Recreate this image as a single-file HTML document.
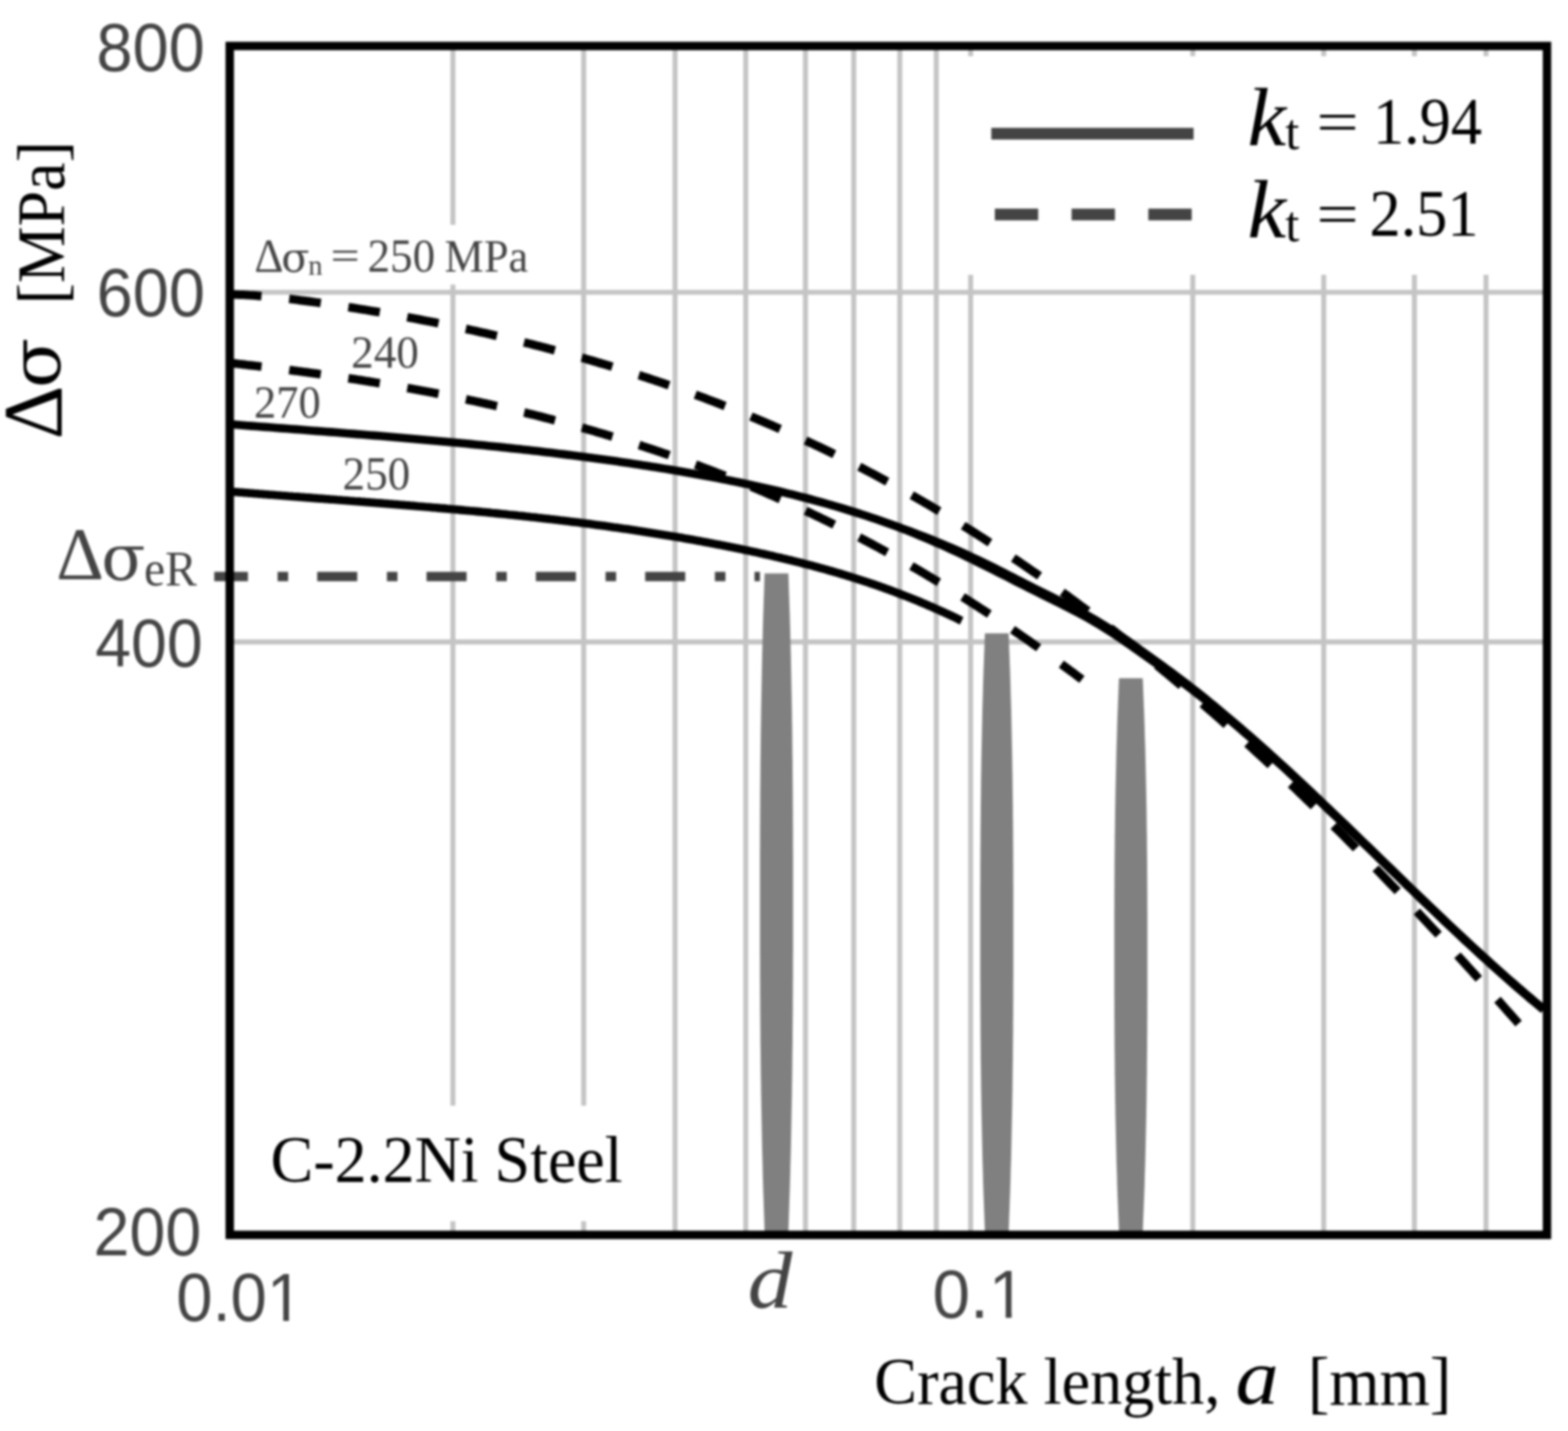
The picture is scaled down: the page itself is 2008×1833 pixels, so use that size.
<!DOCTYPE html>
<html lang="en">
<head>
<meta charset="utf-8">
<title>Fatigue threshold stress vs crack length</title>
<style>
html, body { margin: 0; padding: 0; background: #ffffff; }
body { width: 2008px; height: 1833px; overflow: hidden; }
svg { display: block; }
text { white-space: pre; }
</style>
</head>
<body>
<svg xmlns="http://www.w3.org/2000/svg" width="2008" height="1833" viewBox="0 0 2008 1833">
<defs><filter id="soft" x="0" y="0" width="2008" height="1833" filterUnits="userSpaceOnUse" color-interpolation-filters="sRGB"><feGaussianBlur stdDeviation="1.7"/></filter></defs>
<rect x="0" y="0" width="2008" height="1833" fill="#ffffff"/>
<g filter="url(#soft)">
<rect x="0" y="0" width="2008" height="1833" fill="#ffffff"/>
<g stroke="#c4c4c4" stroke-width="6.4" fill="none">
<line x1="580.0" y1="58.9" x2="580.0" y2="1581.8"/>
<line x1="747.5" y1="58.9" x2="747.5" y2="1581.8"/>
<line x1="864.5" y1="58.9" x2="864.5" y2="1581.8"/>
<line x1="955.0" y1="58.9" x2="955.0" y2="1581.8"/>
<line x1="1031.5" y1="58.9" x2="1031.5" y2="1581.8"/>
<line x1="1093.3" y1="58.9" x2="1093.3" y2="1581.8"/>
<line x1="1152.3" y1="58.9" x2="1152.3" y2="1581.8"/>
<line x1="1199.0" y1="58.9" x2="1199.0" y2="1581.8"/>
<line x1="1243.0" y1="58.9" x2="1243.0" y2="1581.8"/>
<line x1="1527.5" y1="58.9" x2="1527.5" y2="1581.8"/>
<line x1="1695.2" y1="58.9" x2="1695.2" y2="1581.8"/>
<line x1="1811.3" y1="58.9" x2="1811.3" y2="1581.8"/>
<line x1="1903.0" y1="58.9" x2="1903.0" y2="1581.8"/>
<line x1="294.2" y1="374.4" x2="1981.1" y2="374.4"/>
<line x1="294.2" y1="822.2" x2="1981.1" y2="822.2"/>
</g>
<g fill="#ffffff">
<rect x="1222" y="72" width="700" height="280"/>
<rect x="305" y="288" width="400" height="76.5"/>
<rect x="305" y="1416.3" width="505" height="148"/>
</g>
<g fill="#808080">
<path d="M1009.6,734.4 L1010.0,744.9 L1010.3,755.5 L1010.7,766.0 L1011.0,776.6 L1011.4,787.1 L1011.7,797.7 L1012.0,808.2 L1012.2,818.8 L1012.5,829.3 L1012.8,839.9 L1013.0,850.4 L1013.2,860.9 L1013.4,871.5 L1013.6,882.0 L1013.8,892.6 L1014.0,903.1 L1014.2,913.7 L1014.3,924.2 L1014.5,934.8 L1014.6,945.3 L1014.7,955.8 L1014.8,966.4 L1015.0,976.9 L1015.0,987.5 L1015.1,998.0 L1015.2,1008.6 L1015.3,1019.1 L1015.3,1029.7 L1015.4,1040.2 L1015.4,1050.8 L1015.5,1061.3 L1015.5,1071.8 L1015.5,1082.4 L1015.6,1092.9 L1015.6,1103.5 L1015.6,1114.0 L1015.6,1124.6 L1015.6,1135.1 L1015.6,1145.7 L1015.6,1156.2 L1015.6,1166.7 L1015.6,1177.3 L1015.6,1187.8 L1015.6,1198.4 L1015.6,1208.9 L1015.6,1219.5 L1015.5,1230.0 L1015.5,1240.6 L1015.5,1251.1 L1015.4,1261.7 L1015.4,1272.2 L1015.3,1282.7 L1015.3,1293.3 L1015.2,1303.8 L1015.1,1314.4 L1015.0,1324.9 L1015.0,1335.5 L1014.8,1346.0 L1014.7,1356.6 L1014.6,1367.1 L1014.5,1377.6 L1014.3,1388.2 L1014.2,1398.7 L1014.0,1409.3 L1013.8,1419.8 L1013.6,1430.4 L1013.4,1440.9 L1013.2,1451.5 L1013.0,1462.0 L1012.8,1472.5 L1012.5,1483.1 L1012.2,1493.6 L1012.0,1504.2 L1011.7,1514.7 L1011.4,1525.3 L1011.0,1535.8 L1010.7,1546.4 L1010.3,1556.9 L1010.0,1567.5 L1009.6,1578.0 L979.2,1578.0 L978.8,1567.5 L978.5,1556.9 L978.1,1546.4 L977.8,1535.8 L977.4,1525.3 L977.1,1514.7 L976.8,1504.2 L976.6,1493.6 L976.3,1483.1 L976.0,1472.5 L975.8,1462.0 L975.6,1451.5 L975.4,1440.9 L975.2,1430.4 L975.0,1419.8 L974.8,1409.3 L974.6,1398.7 L974.5,1388.2 L974.3,1377.6 L974.2,1367.1 L974.1,1356.6 L974.0,1346.0 L973.8,1335.5 L973.8,1324.9 L973.7,1314.4 L973.6,1303.8 L973.5,1293.3 L973.5,1282.7 L973.4,1272.2 L973.4,1261.7 L973.3,1251.1 L973.3,1240.6 L973.3,1230.0 L973.2,1219.5 L973.2,1208.9 L973.2,1198.4 L973.2,1187.8 L973.2,1177.3 L973.2,1166.7 L973.2,1156.2 L973.2,1145.7 L973.2,1135.1 L973.2,1124.6 L973.2,1114.0 L973.2,1103.5 L973.2,1092.9 L973.3,1082.4 L973.3,1071.8 L973.3,1061.3 L973.4,1050.8 L973.4,1040.2 L973.5,1029.7 L973.5,1019.1 L973.6,1008.6 L973.7,998.0 L973.8,987.5 L973.8,976.9 L974.0,966.4 L974.1,955.8 L974.2,945.3 L974.3,934.8 L974.5,924.2 L974.6,913.7 L974.8,903.1 L975.0,892.6 L975.2,882.0 L975.4,871.5 L975.6,860.9 L975.8,850.4 L976.0,839.9 L976.3,829.3 L976.6,818.8 L976.8,808.2 L977.1,797.7 L977.4,787.1 L977.8,776.6 L978.1,766.0 L978.5,755.5 L978.8,744.9 L979.2,734.4 Z"/>
<path d="M1291.7,811.2 L1292.1,820.8 L1292.4,830.4 L1292.8,840.0 L1293.1,849.5 L1293.5,859.1 L1293.8,868.7 L1294.1,878.3 L1294.3,887.9 L1294.6,897.5 L1294.9,907.1 L1295.1,916.6 L1295.3,926.2 L1295.5,935.8 L1295.7,945.4 L1295.9,955.0 L1296.1,964.6 L1296.3,974.1 L1296.4,983.7 L1296.6,993.3 L1296.7,1002.9 L1296.8,1012.5 L1296.9,1022.1 L1297.1,1031.7 L1297.1,1041.2 L1297.2,1050.8 L1297.3,1060.4 L1297.4,1070.0 L1297.4,1079.6 L1297.5,1089.2 L1297.5,1098.8 L1297.6,1108.3 L1297.6,1117.9 L1297.6,1127.5 L1297.7,1137.1 L1297.7,1146.7 L1297.7,1156.3 L1297.7,1165.8 L1297.7,1175.4 L1297.7,1185.0 L1297.7,1194.6 L1297.7,1204.2 L1297.7,1213.8 L1297.7,1223.4 L1297.7,1232.9 L1297.7,1242.5 L1297.7,1252.1 L1297.6,1261.7 L1297.6,1271.3 L1297.6,1280.9 L1297.5,1290.5 L1297.5,1300.0 L1297.4,1309.6 L1297.4,1319.2 L1297.3,1328.8 L1297.2,1338.4 L1297.1,1348.0 L1297.1,1357.5 L1296.9,1367.1 L1296.8,1376.7 L1296.7,1386.3 L1296.6,1395.9 L1296.4,1405.5 L1296.3,1415.1 L1296.1,1424.6 L1295.9,1434.2 L1295.7,1443.8 L1295.5,1453.4 L1295.3,1463.0 L1295.1,1472.6 L1294.9,1482.2 L1294.6,1491.7 L1294.3,1501.3 L1294.1,1510.9 L1293.8,1520.5 L1293.5,1530.1 L1293.1,1539.7 L1292.8,1549.2 L1292.4,1558.8 L1292.1,1568.4 L1291.7,1578.0 L1261.3,1578.0 L1260.9,1568.4 L1260.6,1558.8 L1260.2,1549.2 L1259.9,1539.7 L1259.5,1530.1 L1259.2,1520.5 L1258.9,1510.9 L1258.7,1501.3 L1258.4,1491.7 L1258.1,1482.2 L1257.9,1472.6 L1257.7,1463.0 L1257.5,1453.4 L1257.3,1443.8 L1257.1,1434.2 L1256.9,1424.6 L1256.7,1415.1 L1256.6,1405.5 L1256.4,1395.9 L1256.3,1386.3 L1256.2,1376.7 L1256.1,1367.1 L1255.9,1357.5 L1255.9,1348.0 L1255.8,1338.4 L1255.7,1328.8 L1255.6,1319.2 L1255.6,1309.6 L1255.5,1300.0 L1255.5,1290.5 L1255.4,1280.9 L1255.4,1271.3 L1255.4,1261.7 L1255.3,1252.1 L1255.3,1242.5 L1255.3,1232.9 L1255.3,1223.4 L1255.3,1213.8 L1255.3,1204.2 L1255.3,1194.6 L1255.3,1185.0 L1255.3,1175.4 L1255.3,1165.8 L1255.3,1156.3 L1255.3,1146.7 L1255.3,1137.1 L1255.4,1127.5 L1255.4,1117.9 L1255.4,1108.3 L1255.5,1098.8 L1255.5,1089.2 L1255.6,1079.6 L1255.6,1070.0 L1255.7,1060.4 L1255.8,1050.8 L1255.9,1041.2 L1255.9,1031.7 L1256.1,1022.1 L1256.2,1012.5 L1256.3,1002.9 L1256.4,993.3 L1256.6,983.7 L1256.7,974.1 L1256.9,964.6 L1257.1,955.0 L1257.3,945.4 L1257.5,935.8 L1257.7,926.2 L1257.9,916.6 L1258.1,907.1 L1258.4,897.5 L1258.7,887.9 L1258.9,878.3 L1259.2,868.7 L1259.5,859.1 L1259.9,849.5 L1260.2,840.0 L1260.6,830.4 L1260.9,820.8 L1261.3,811.2 Z"/>
<path d="M1463.4,868.8 L1463.8,877.7 L1464.1,886.5 L1464.5,895.4 L1464.8,904.3 L1465.2,913.1 L1465.5,922.0 L1465.8,930.9 L1466.0,939.7 L1466.3,948.6 L1466.6,957.4 L1466.8,966.3 L1467.0,975.2 L1467.2,984.0 L1467.4,992.9 L1467.6,1001.8 L1467.8,1010.6 L1468.0,1019.5 L1468.1,1028.4 L1468.3,1037.2 L1468.4,1046.1 L1468.5,1055.0 L1468.6,1063.8 L1468.8,1072.7 L1468.8,1081.6 L1468.9,1090.4 L1469.0,1099.3 L1469.1,1108.2 L1469.1,1117.0 L1469.2,1125.9 L1469.2,1134.8 L1469.3,1143.6 L1469.3,1152.5 L1469.3,1161.3 L1469.4,1170.2 L1469.4,1179.1 L1469.4,1187.9 L1469.4,1196.8 L1469.4,1205.7 L1469.4,1214.5 L1469.4,1223.4 L1469.4,1232.3 L1469.4,1241.1 L1469.4,1250.0 L1469.4,1258.9 L1469.4,1267.7 L1469.4,1276.6 L1469.3,1285.5 L1469.3,1294.3 L1469.3,1303.2 L1469.2,1312.0 L1469.2,1320.9 L1469.1,1329.8 L1469.1,1338.6 L1469.0,1347.5 L1468.9,1356.4 L1468.8,1365.2 L1468.8,1374.1 L1468.6,1383.0 L1468.5,1391.8 L1468.4,1400.7 L1468.3,1409.6 L1468.1,1418.4 L1468.0,1427.3 L1467.8,1436.2 L1467.6,1445.0 L1467.4,1453.9 L1467.2,1462.8 L1467.0,1471.6 L1466.8,1480.5 L1466.6,1489.3 L1466.3,1498.2 L1466.0,1507.1 L1465.8,1515.9 L1465.5,1524.8 L1465.2,1533.7 L1464.8,1542.5 L1464.5,1551.4 L1464.1,1560.3 L1463.8,1569.1 L1463.4,1578.0 L1433.0,1578.0 L1432.6,1569.1 L1432.3,1560.3 L1431.9,1551.4 L1431.6,1542.5 L1431.2,1533.7 L1430.9,1524.8 L1430.6,1515.9 L1430.4,1507.1 L1430.1,1498.2 L1429.8,1489.3 L1429.6,1480.5 L1429.4,1471.6 L1429.2,1462.8 L1429.0,1453.9 L1428.8,1445.0 L1428.6,1436.2 L1428.4,1427.3 L1428.3,1418.4 L1428.1,1409.6 L1428.0,1400.7 L1427.9,1391.8 L1427.8,1383.0 L1427.6,1374.1 L1427.6,1365.2 L1427.5,1356.4 L1427.4,1347.5 L1427.3,1338.6 L1427.3,1329.8 L1427.2,1320.9 L1427.2,1312.0 L1427.1,1303.2 L1427.1,1294.3 L1427.1,1285.5 L1427.0,1276.6 L1427.0,1267.7 L1427.0,1258.9 L1427.0,1250.0 L1427.0,1241.1 L1427.0,1232.3 L1427.0,1223.4 L1427.0,1214.5 L1427.0,1205.7 L1427.0,1196.8 L1427.0,1187.9 L1427.0,1179.1 L1427.0,1170.2 L1427.1,1161.3 L1427.1,1152.5 L1427.1,1143.6 L1427.2,1134.8 L1427.2,1125.9 L1427.3,1117.0 L1427.3,1108.2 L1427.4,1099.3 L1427.5,1090.4 L1427.6,1081.6 L1427.6,1072.7 L1427.8,1063.8 L1427.9,1055.0 L1428.0,1046.1 L1428.1,1037.2 L1428.3,1028.4 L1428.4,1019.5 L1428.6,1010.6 L1428.8,1001.8 L1429.0,992.9 L1429.2,984.0 L1429.4,975.2 L1429.6,966.3 L1429.8,957.4 L1430.1,948.6 L1430.4,939.7 L1430.6,930.9 L1430.9,922.0 L1431.2,913.1 L1431.6,904.3 L1431.9,895.4 L1432.3,886.5 L1432.6,877.7 L1433.0,868.8 Z"/>
</g>
<g stroke="#444444" stroke-width="12" fill="none">
<line x1="274.4" y1="738.6" x2="973.2" y2="738.6" stroke-dasharray="43.1 38 13.5 37.25 51.25 38 13.5 37.25 51.25 38 13.5 37.25 51.25 38 13.5 37.25 51.25 38 13.5 37.25 51.25"/>
</g>
<g stroke="#000000" fill="none" stroke-linejoin="round">
<path d="M294.0,377.1 L298.1,377.2 L302.3,377.3 L306.4,377.4 L310.6,377.5 L314.7,377.7 L318.8,378.0 L323.0,378.2 L327.1,378.5 L331.3,378.9 L335.4,379.2 L339.6,379.6 L343.7,379.9 L347.8,380.4 L352.0,380.8 L356.1,381.2 L360.3,381.7 L364.4,382.1 L368.5,382.6 L372.7,383.1 L376.8,383.6 L381.0,384.1 L385.1,384.7 L389.3,385.2 L393.4,385.7 L397.5,386.3 L401.7,386.9 L405.8,387.4 L410.0,388.0 L414.1,388.6 L418.2,389.2 L422.4,389.8 L426.5,390.4 L430.7,391.1 L434.8,391.7 L439.0,392.3 L443.1,393.0 L447.2,393.6 L451.4,394.3 L455.5,394.9 L459.7,395.6 L463.8,396.3 L467.9,396.9 L472.1,397.6 L476.2,398.3 L480.4,399.0 L484.5,399.7 L488.7,400.4 L492.8,401.1 L496.9,401.9 L501.1,402.6 L505.2,403.3 L509.4,404.1 L513.5,404.8 L517.6,405.6 L521.8,406.4 L525.9,407.1 L530.1,407.9 L534.2,408.7 L538.4,409.5 L542.5,410.3 L546.6,411.1 L550.8,411.9 L554.9,412.7 L559.1,413.5 L563.2,414.4 L567.3,415.2 L571.5,416.0 L575.6,416.9 L579.8,417.7 L583.9,418.6 L588.1,419.5 L592.2,420.4 L596.3,421.2 L600.5,422.1 L604.6,423.0 L608.8,423.9 L612.9,424.9 L617.0,425.8 L621.2,426.7 L625.3,427.7 L629.5,428.6 L633.6,429.6 L637.8,430.5 L641.9,431.5 L646.0,432.5 L650.2,433.4 L654.3,434.4 L658.5,435.4 L662.6,436.4 L666.7,437.5 L670.9,438.5 L675.0,439.5 L679.2,440.5 L683.3,441.6 L687.5,442.7 L691.6,443.7 L695.7,444.8 L699.9,445.9 L704.0,447.0 L708.2,448.1 L712.3,449.2 L716.4,450.3 L720.6,451.4 L724.7,452.5 L728.9,453.7 L733.0,454.8 L737.2,456.0 L741.3,457.2 L745.4,458.3 L749.6,459.5 L753.7,460.7 L757.9,461.9 L762.0,463.1 L766.1,464.4 L770.3,465.6 L774.4,466.8 L778.6,468.1 L782.7,469.3 L786.9,470.6 L791.0,471.9 L795.1,473.2 L799.3,474.5 L803.4,475.8 L807.6,477.1 L811.7,478.4 L815.8,479.8 L820.0,481.1 L824.1,482.5 L828.3,483.8 L832.4,485.2 L836.6,486.6 L840.7,488.0 L844.8,489.4 L849.0,490.8 L853.1,492.2 L857.3,493.7 L861.4,495.1 L865.5,496.6 L869.7,498.1 L873.8,499.5 L878.0,501.0 L882.1,502.5 L886.2,504.0 L890.4,505.6 L894.5,507.1 L898.7,508.6 L902.8,510.2 L907.0,511.8 L911.1,513.3 L915.2,514.9 L919.4,516.5 L923.5,518.1 L927.7,519.8 L931.8,521.4 L935.9,523.0 L940.1,524.7 L944.2,526.4 L948.4,528.0 L952.5,529.7 L956.7,531.4 L960.8,533.1 L964.9,534.9 L969.1,536.6 L973.2,538.3 L977.4,540.1 L981.5,541.9 L985.6,543.7 L989.8,545.4 L993.9,547.3 L998.1,549.1 L1002.2,550.9 L1006.4,552.7 L1010.5,554.6 L1014.6,556.5 L1018.8,558.3 L1022.9,560.2 L1027.1,562.1 L1031.2,564.1 L1035.3,566.0 L1039.5,567.9 L1043.6,569.9 L1047.8,571.8 L1051.9,573.8 L1056.1,575.8 L1060.2,577.8 L1064.3,579.8 L1068.5,581.9 L1072.6,583.9 L1076.8,586.0 L1080.9,588.0 L1085.0,590.1 L1089.2,592.2 L1093.3,594.3 L1097.5,596.4 L1101.6,598.5 L1105.8,600.7 L1109.9,602.8 L1114.0,605.0 L1118.2,607.2 L1122.3,609.4 L1126.5,611.6 L1130.6,613.8 L1134.7,616.1 L1138.9,618.3 L1143.0,620.6 L1147.2,622.8 L1151.3,625.1 L1155.5,627.4 L1159.6,629.8 L1163.7,632.1 L1167.9,634.4 L1172.0,636.8 L1176.2,639.2 L1180.3,641.5 L1184.4,643.9 L1188.6,646.3 L1192.7,648.8 L1196.9,651.2 L1201.0,653.7 L1205.2,656.1 L1209.3,658.6 L1213.4,661.1 L1217.6,663.6 L1221.7,666.1 L1225.9,668.7 L1230.0,671.2 L1234.1,673.8 L1238.3,676.3 L1242.4,678.9 L1246.6,681.5 L1250.7,684.1 L1254.9,686.8 L1259.0,689.4 L1263.1,692.1 L1267.3,694.8 L1271.4,697.4 L1275.6,700.1 L1279.7,702.9 L1283.8,705.6 L1288.0,708.3 L1292.1,711.1 L1296.3,713.9 L1300.4,716.6 L1304.6,719.4 L1308.7,722.2 L1312.8,725.1 L1317.0,727.9 L1321.1,730.8 L1325.3,733.6 L1329.4,736.5 L1333.5,739.4 L1337.7,742.3 L1341.8,745.3 L1346.0,748.2 L1350.1,751.1 L1354.3,754.1 L1358.4,757.1 L1362.5,760.1 L1366.7,763.1 L1370.8,766.1 L1375.0,769.2 L1379.1,772.2 L1383.2,775.3 L1387.4,778.4 L1391.5,781.4 L1395.7,784.6 L1399.8,787.7 L1403.9,790.8 L1408.1,794.0 L1412.2,797.1 L1416.4,800.3 L1420.5,803.5 L1424.7,806.7 L1428.8,809.9 L1432.9,813.2 L1437.1,816.4 L1441.2,819.7 L1445.4,822.9 L1449.5,826.2 L1453.6,829.5 L1457.8,832.8 L1461.9,836.2 L1466.1,839.5 L1470.2,842.9 L1474.4,846.3 L1478.5,849.6 L1482.6,853.0 L1486.8,856.5 L1490.9,859.9 L1495.1,863.3 L1499.2,866.8 L1503.3,870.2 L1507.5,873.7 L1511.6,877.2 L1515.8,880.7 L1519.9,884.3 L1524.1,887.8 L1528.2,891.3 L1532.3,894.9 L1536.5,898.5 L1540.6,902.1 L1544.8,905.7 L1548.9,909.3 L1553.0,912.9 L1557.2,916.6 L1561.3,920.2 L1565.5,923.9 L1569.6,927.6 L1573.8,931.3 L1577.9,935.0 L1582.0,938.7 L1586.2,942.5 L1590.3,946.2 L1594.5,950.0 L1598.6,953.7 L1602.7,957.5 L1606.9,961.3 L1611.0,965.1 L1615.2,969.0 L1619.3,972.8 L1623.5,976.7 L1627.6,980.5 L1631.7,984.4 L1635.9,988.3 L1640.0,992.2 L1644.2,996.1 L1648.3,1000.1 L1652.4,1004.0 L1656.6,1007.9 L1660.7,1011.9 L1664.9,1015.9 L1669.0,1019.9 L1673.2,1023.9 L1677.3,1027.9 L1681.4,1031.9 L1685.6,1036.0 L1689.7,1040.0 L1693.9,1044.1 L1698.0,1048.2 L1702.1,1052.3 L1706.3,1056.4 L1710.4,1060.5 L1714.6,1064.6 L1718.7,1068.7 L1722.9,1072.9 L1727.0,1077.0 L1731.1,1081.2 L1735.3,1085.4 L1739.4,1089.6 L1743.6,1093.8 L1747.7,1098.0 L1751.8,1102.2 L1756.0,1106.5 L1760.1,1110.7 L1764.3,1115.0 L1768.4,1119.3 L1772.6,1123.6 L1776.7,1127.9 L1780.8,1132.2 L1785.0,1136.5 L1789.1,1140.8 L1793.3,1145.2 L1797.4,1149.5 L1801.5,1153.9 L1805.7,1158.3 L1809.8,1162.6 L1814.0,1167.0 L1818.1,1171.4 L1822.3,1175.9 L1826.4,1180.3 L1830.5,1184.7 L1834.7,1189.2 L1838.8,1193.6 L1843.0,1198.1 L1847.1,1202.6 L1851.2,1207.1 L1855.4,1211.6 L1859.5,1216.1 L1863.7,1220.6 L1867.8,1225.2 L1872.0,1229.7 L1876.1,1234.2 L1880.2,1238.8 L1884.4,1243.4 L1888.5,1248.0 L1892.7,1252.6 L1896.8,1257.2 L1900.9,1261.8 L1905.1,1266.4 L1909.2,1271.0 L1913.4,1275.7 L1917.5,1280.3 L1921.7,1285.0 L1925.8,1289.6 L1929.9,1294.3 L1934.1,1299.0 L1938.2,1303.7 L1942.4,1308.4 L1946.5,1313.1" stroke-width="11.0" stroke-dasharray="40.8 35.70" stroke-dashoffset="-0.11"/>
<path d="M294.0,464.9 L296.7,465.2 L299.5,465.5 L302.2,465.8 L304.9,466.1 L307.7,466.4 L310.4,466.7 L313.1,467.0 L315.9,467.4 L318.6,467.7 L321.4,468.0 L324.1,468.3 L326.8,468.6 L329.6,468.9 L332.3,469.3 L335.0,469.6 L337.8,469.9 L340.5,470.2 L343.2,470.6 L346.0,470.9 L348.7,471.2 L351.4,471.6 L354.2,471.9 L356.9,472.2 L359.7,472.6 L362.4,472.9 L365.1,473.3 L367.9,473.6 L370.6,474.0 L373.3,474.3 L376.1,474.7 L378.8,475.0 L381.5,475.4 L384.3,475.7 L387.0,476.1 L389.7,476.5 L392.5,476.8 L395.2,477.2 L398.0,477.6 L400.7,478.0 L403.4,478.3 L406.2,478.7 L408.9,479.1 L411.6,479.5 L414.4,479.9 L417.1,480.3 L419.8,480.6 L422.6,481.0 L425.3,481.4 L428.0,481.8 L430.8,482.2 L433.5,482.6 L436.3,483.0 L439.0,483.4 L441.7,483.9 L444.5,484.3 L447.2,484.7 L449.9,485.1 L452.7,485.5 L455.4,485.9 L458.1,486.4 L460.9,486.8 L463.6,487.2 L466.3,487.7 L469.1,488.1 L471.8,488.5 L474.5,489.0 L477.3,489.4 L480.0,489.9 L482.8,490.3 L485.5,490.8 L488.2,491.2 L491.0,491.7 L493.7,492.1 L496.4,492.6 L499.2,493.1 L501.9,493.5 L504.6,494.0 L507.4,494.5 L510.1,494.9 L512.8,495.4 L515.6,495.9 L518.3,496.4 L521.1,496.9 L523.8,497.4 L526.5,497.8 L529.3,498.3 L532.0,498.8 L534.7,499.3 L537.5,499.8 L540.2,500.4 L542.9,500.9 L545.7,501.4 L548.4,501.9 L551.1,502.4 L553.9,502.9 L556.6,503.5 L559.4,504.0 L562.1,504.5 L564.8,505.1 L567.6,505.6 L570.3,506.1 L573.0,506.7 L575.8,507.2 L578.5,507.8 L581.2,508.3 L584.0,508.9 L586.7,509.4 L589.4,510.0 L592.2,510.6 L594.9,511.1 L597.7,511.7 L600.4,512.3 L603.1,512.9 L605.9,513.4 L608.6,514.0 L611.3,514.6 L614.1,515.2 L616.8,515.8 L619.5,516.4 L622.3,517.0 L625.0,517.6 L627.7,518.2 L630.5,518.8 L633.2,519.5 L635.9,520.1 L638.7,520.7 L641.4,521.3 L644.2,521.9 L646.9,522.6 L649.6,523.2 L652.4,523.9 L655.1,524.5 L657.8,525.2 L660.6,525.8 L663.3,526.5 L666.0,527.1 L668.8,527.8 L671.5,528.4 L674.2,529.1 L677.0,529.8 L679.7,530.5 L682.5,531.1 L685.2,531.8 L687.9,532.5 L690.7,533.2 L693.4,533.9 L696.1,534.6 L698.9,535.3 L701.6,536.0 L704.3,536.7 L707.1,537.4 L709.8,538.2 L712.5,538.9 L715.3,539.6 L718.0,540.3 L720.8,541.1 L723.5,541.8 L726.2,542.6 L729.0,543.3 L731.7,544.1 L734.4,544.8 L737.2,545.6 L739.9,546.3 L742.6,547.1 L745.4,547.9 L748.1,548.6 L750.8,549.4 L753.6,550.2 L756.3,551.0 L759.1,551.8 L761.8,552.6 L764.5,553.4 L767.3,554.2 L770.0,555.0 L772.7,555.8 L775.5,556.6 L778.2,557.4 L780.9,558.3 L783.7,559.1 L786.4,559.9 L789.1,560.8 L791.9,561.6 L794.6,562.5 L797.3,563.3 L800.1,564.2 L802.8,565.0 L805.6,565.9 L808.3,566.8 L811.0,567.6 L813.8,568.5 L816.5,569.4 L819.2,570.3 L822.0,571.2 L824.7,572.1 L827.4,573.0 L830.2,573.9 L832.9,574.8 L835.6,575.7 L838.4,576.6 L841.1,577.6 L843.9,578.5 L846.6,579.4 L849.3,580.4 L852.1,581.3 L854.8,582.2 L857.5,583.2 L860.3,584.2 L863.0,585.1 L865.7,586.1 L868.5,587.1 L871.2,588.0 L873.9,589.0 L876.7,590.0 L879.4,591.0 L882.2,592.0 L884.9,593.0 L887.6,594.0 L890.4,595.0 L893.1,596.0 L895.8,597.0 L898.6,598.1 L901.3,599.1 L904.0,600.1 L906.8,601.2 L909.5,602.2 L912.2,603.3 L915.0,604.3 L917.7,605.4 L920.4,606.5 L923.2,607.5 L925.9,608.6 L928.7,609.7 L931.4,610.8 L934.1,611.9 L936.9,613.0 L939.6,614.1 L942.3,615.2 L945.1,616.3 L947.8,617.4 L950.5,618.5 L953.3,619.6 L956.0,620.8 L958.7,621.9 L961.5,623.1 L964.2,624.2 L967.0,625.4 L969.7,626.5 L972.4,627.7 L975.2,628.9 L977.9,630.0 L980.6,631.2 L983.4,632.4 L986.1,633.6 L988.8,634.8 L991.6,636.0 L994.3,637.2 L997.0,638.4 L999.8,639.6 L1002.5,640.9 L1005.3,642.1 L1008.0,643.3 L1010.7,644.6 L1013.5,645.8 L1016.2,647.1 L1018.9,648.3 L1021.7,649.6 L1024.4,650.9 L1027.1,652.1 L1029.9,653.4 L1032.6,654.7 L1035.3,656.0 L1038.1,657.3 L1040.8,658.6 L1043.6,659.9 L1046.3,661.2 L1049.0,662.5 L1051.8,663.9 L1054.5,665.2 L1057.2,666.5 L1060.0,667.9 L1062.7,669.2 L1065.4,670.6 L1068.2,671.9 L1070.9,673.3 L1073.6,674.7 L1076.4,676.0 L1079.1,677.4 L1081.8,678.8 L1084.6,680.2 L1087.3,681.6 L1090.1,683.0 L1092.8,684.4 L1095.5,685.8 L1098.3,687.3 L1101.0,688.7 L1103.7,690.1 L1106.5,691.6 L1109.2,693.0 L1111.9,694.5 L1114.7,695.9 L1117.4,697.4 L1120.1,698.9 L1122.9,700.3 L1125.6,701.8 L1128.4,703.3 L1131.1,704.8 L1133.8,706.3 L1136.6,707.8 L1139.3,709.3 L1142.0,710.8 L1144.8,712.4 L1147.5,713.9 L1150.2,715.4 L1153.0,717.0 L1155.7,718.5 L1158.4,720.1 L1161.2,721.6 L1163.9,723.2 L1166.7,724.8 L1169.4,726.4 L1172.1,727.9 L1174.9,729.5 L1177.6,731.1 L1180.3,732.7 L1183.1,734.3 L1185.8,735.9 L1188.5,737.6 L1191.3,739.2 L1194.0,740.8 L1196.7,742.5 L1199.5,744.1 L1202.2,745.8 L1205.0,747.4 L1207.7,749.1 L1210.4,750.8 L1213.2,752.4 L1215.9,754.1 L1218.6,755.8 L1221.4,757.5 L1224.1,759.2 L1226.8,760.9 L1229.6,762.6 L1232.3,764.3 L1235.0,766.0 L1237.8,767.8 L1240.5,769.5 L1243.2,771.3 L1246.0,773.0 L1248.7,774.8 L1251.5,776.5 L1254.2,778.3 L1256.9,780.1 L1259.7,781.8 L1262.4,783.6 L1265.1,785.4 L1267.9,787.2 L1270.6,789.0 L1273.3,790.8 L1276.1,792.6 L1278.8,794.5 L1281.5,796.3 L1284.3,798.1 L1287.0,800.0 L1289.8,801.8 L1292.5,803.7 L1295.2,805.5 L1298.0,807.4 L1300.7,809.3 L1303.4,811.1 L1306.2,813.0 L1308.9,814.9 L1311.6,816.8 L1314.4,818.7 L1317.1,820.6 L1319.8,822.5 L1322.6,824.5 L1325.3,826.4 L1328.1,828.3 L1330.8,830.3 L1333.5,832.2 L1336.3,834.2 L1339.0,836.1 L1341.7,838.1 L1344.5,840.0 L1347.2,842.0 L1349.9,844.0 L1352.7,846.0 L1355.4,848.0 L1358.1,850.0 L1360.9,852.0 L1363.6,854.0 L1366.4,856.0 L1369.1,858.0 L1371.8,860.1 L1374.6,862.1 L1377.3,864.1 L1380.0,866.2 L1382.8,868.2 L1385.5,870.3" stroke-width="11.0" stroke-dasharray="40.8 35.69" stroke-dashoffset="-0.41"/>
<path d="M294.4,538.1 L300.0,538.5 L305.7,539.0 L311.3,539.4 L316.9,539.9 L322.6,540.3 L328.2,540.7 L333.8,541.2 L339.4,541.6 L345.1,542.0 L350.7,542.5 L356.3,542.9 L362.0,543.3 L367.6,543.8 L373.2,544.2 L378.8,544.6 L384.5,545.1 L390.1,545.5 L395.7,545.9 L401.4,546.4 L407.0,546.8 L412.6,547.2 L418.2,547.7 L423.9,548.1 L429.5,548.6 L435.1,549.0 L440.8,549.4 L446.4,549.9 L452.0,550.3 L457.7,550.8 L463.3,551.2 L468.9,551.7 L474.5,552.2 L480.2,552.6 L485.8,553.1 L491.4,553.5 L497.1,554.0 L502.7,554.5 L508.3,554.9 L514.0,555.4 L519.6,555.9 L525.2,556.4 L530.9,556.9 L536.5,557.4 L542.1,557.9 L547.8,558.4 L553.4,558.9 L559.0,559.4 L564.7,559.9 L570.3,560.4 L575.9,560.9 L581.6,561.5 L587.2,562.0 L592.8,562.5 L598.5,563.1 L604.1,563.6 L609.7,564.2 L615.4,564.7 L621.0,565.3 L626.6,565.9 L632.3,566.4 L637.9,567.0 L643.5,567.6 L649.2,568.2 L654.8,568.8 L660.4,569.4 L666.1,570.0 L671.7,570.7 L677.3,571.3 L683.0,571.9 L688.6,572.6 L694.3,573.2 L699.9,573.9 L705.5,574.6 L711.2,575.3 L716.8,575.9 L722.4,576.6 L728.1,577.3 L733.7,578.0 L739.3,578.8 L745.0,579.5 L750.6,580.2 L756.3,581.0 L761.9,581.7 L767.5,582.5 L773.2,583.3 L778.8,584.1 L784.4,584.8 L790.1,585.6 L795.7,586.5 L801.4,587.3 L807.0,588.1 L812.6,589.0 L818.3,589.8 L823.9,590.7 L829.6,591.6 L835.2,592.4 L840.8,593.3 L846.5,594.3 L852.1,595.2 L857.7,596.1 L863.4,597.0 L869.0,598.0 L874.7,599.0 L880.3,599.9 L885.9,600.9 L891.6,601.9 L897.2,603.0 L902.9,604.0 L908.5,605.0 L914.2,606.1 L919.8,607.2 L925.4,608.3 L931.1,609.4 L936.7,610.5 L942.4,611.7 L948.0,612.8 L953.7,614.0 L959.3,615.2 L964.9,616.4 L970.6,617.7 L976.2,618.9 L981.9,620.2 L987.5,621.5 L993.2,622.8 L998.8,624.1 L1004.5,625.5 L1010.1,626.9 L1015.8,628.3 L1021.4,629.7 L1027.1,631.2 L1032.7,632.6 L1038.4,634.1 L1044.0,635.7 L1049.7,637.2 L1055.3,638.8 L1061.0,640.4 L1066.6,642.0 L1072.3,643.7 L1077.9,645.3 L1083.6,647.1 L1089.2,648.8 L1094.9,650.6 L1100.5,652.3 L1106.2,654.2 L1111.8,656.0 L1117.5,657.9 L1123.1,659.8 L1128.8,661.8 L1134.4,663.7 L1140.1,665.7 L1145.8,667.8 L1151.4,669.8 L1157.1,671.9 L1162.8,674.0 L1168.4,676.1 L1174.1,678.2 L1179.8,680.4 L1185.5,682.6 L1191.2,684.8 L1196.9,687.1 L1202.6,689.4 L1208.2,691.8 L1213.9,694.2 L1219.6,696.6 L1225.3,699.1 L1231.0,701.6 L1236.7,704.1 L1242.4,706.7 L1248.1,709.4 L1253.8,712.0 L1259.5,714.7 L1265.1,717.5 L1270.8,720.3 L1276.4,723.1 L1282.1,726.0 L1287.7,728.8 L1293.3,731.7 L1299.0,734.6 L1304.6,737.5 L1310.2,740.3 L1315.8,743.2 L1321.4,746.1 L1327.1,748.9 L1332.7,751.7 L1338.3,754.5 L1343.9,757.3 L1349.5,760.1 L1355.2,762.9 L1360.8,765.7 L1366.5,768.6 L1372.1,771.5 L1377.8,774.4 L1383.5,777.4 L1389.1,780.4 L1394.8,783.5 L1400.5,786.7 L1406.2,790.0 L1411.9,793.4 L1417.6,796.9 L1423.3,800.5 L1429.0,804.2 L1434.7,808.0 L1440.4,811.9 L1446.1,815.8 L1451.7,819.8 L1457.3,823.8 L1462.9,827.9 L1468.6,831.9 L1474.2,836.0 L1479.8,840.0 L1485.4,844.0 L1491.0,848.1 L1496.6,852.2 L1502.3,856.3 L1507.9,860.5 L1513.5,864.7 L1519.2,869.0 L1524.8,873.3 L1530.4,877.7 L1536.1,882.1 L1541.7,886.6 L1547.3,891.1 L1552.9,895.7 L1558.6,900.3 L1564.2,905.0 L1569.8,909.7 L1575.5,914.4 L1581.1,919.2 L1586.8,924.0 L1592.4,928.8 L1598.0,933.7 L1603.7,938.6 L1609.3,943.6 L1615.0,948.6 L1620.6,953.6 L1626.3,958.6 L1631.9,963.7 L1637.5,968.8 L1643.2,974.0 L1648.8,979.1 L1654.5,984.3 L1660.1,989.5 L1665.7,994.8 L1671.4,1000.0 L1677.0,1005.3 L1682.6,1010.6 L1688.3,1016.0 L1693.9,1021.3 L1699.5,1026.7 L1705.2,1032.0 L1710.8,1037.4 L1716.4,1042.8 L1722.1,1048.2 L1727.7,1053.6 L1733.3,1059.1 L1739.0,1064.5 L1744.6,1069.9 L1750.2,1075.4 L1755.9,1080.8 L1761.5,1086.3 L1767.1,1091.8 L1772.7,1097.2 L1778.4,1102.7 L1784.0,1108.1 L1789.6,1113.6 L1795.2,1119.0 L1800.9,1124.5 L1806.5,1129.9 L1812.1,1135.4 L1817.7,1140.8 L1823.4,1146.2 L1829.0,1151.6 L1834.6,1157.0 L1840.2,1162.3 L1845.9,1167.7 L1851.5,1173.1 L1857.1,1178.4 L1862.7,1183.7 L1868.3,1189.0 L1874.0,1194.2 L1879.6,1199.5 L1885.2,1204.7 L1890.8,1209.9 L1896.4,1215.1 L1902.1,1220.2 L1907.7,1225.3 L1913.3,1230.4 L1918.9,1235.5 L1924.5,1240.5 L1930.1,1245.5 L1935.7,1250.4 L1941.4,1255.3 L1947.0,1260.2 L1952.6,1265.1 L1958.2,1269.9 L1963.8,1274.6 L1969.4,1279.4 L1975.0,1284.1 L1980.6,1288.7 L1973.4,1297.5 L1967.7,1292.8 L1962.1,1288.1 L1956.4,1283.4 L1950.8,1278.6 L1945.1,1273.7 L1939.5,1268.9 L1933.8,1263.9 L1928.2,1259.0 L1922.6,1254.0 L1916.9,1249.0 L1911.3,1244.0 L1905.6,1238.9 L1900.0,1233.8 L1894.3,1228.7 L1888.7,1223.5 L1883.1,1218.3 L1877.4,1213.1 L1871.8,1207.9 L1866.1,1202.6 L1860.5,1197.3 L1854.9,1192.0 L1849.2,1186.7 L1843.6,1181.4 L1838.0,1176.0 L1832.3,1170.6 L1826.7,1165.3 L1821.1,1159.9 L1815.4,1154.5 L1809.8,1149.0 L1804.2,1143.6 L1798.5,1138.2 L1792.9,1132.7 L1787.3,1127.3 L1781.6,1121.8 L1776.0,1116.4 L1770.4,1110.9 L1764.7,1105.5 L1759.1,1100.0 L1753.5,1094.6 L1747.8,1089.1 L1742.2,1083.7 L1736.6,1078.2 L1731.0,1072.8 L1725.3,1067.4 L1719.7,1061.9 L1714.1,1056.5 L1708.5,1051.1 L1702.8,1045.7 L1697.2,1040.4 L1691.6,1035.0 L1686.0,1029.7 L1680.3,1024.3 L1674.7,1019.0 L1669.1,1013.7 L1663.5,1008.5 L1657.9,1003.2 L1652.2,998.0 L1646.6,992.8 L1641.0,987.6 L1635.4,982.5 L1629.8,977.4 L1624.1,972.3 L1618.5,967.2 L1612.9,962.2 L1607.3,957.2 L1601.7,952.3 L1596.1,947.3 L1590.4,942.5 L1584.8,937.6 L1579.2,932.8 L1573.6,928.0 L1568.0,923.3 L1562.4,918.6 L1556.7,914.0 L1551.1,909.5 L1545.5,904.9 L1539.9,900.5 L1534.2,896.0 L1528.6,891.7 L1523.0,887.3 L1517.4,883.1 L1511.7,878.8 L1506.1,874.7 L1500.5,870.6 L1494.9,866.5 L1489.2,862.4 L1483.6,858.4 L1478.0,854.4 L1472.3,850.5 L1466.7,846.5 L1461.0,842.5 L1455.4,838.5 L1449.7,834.6 L1444.1,830.6 L1438.5,826.7 L1432.9,822.8 L1427.3,819.0 L1421.7,815.3 L1416.2,811.7 L1410.6,808.2 L1405.1,804.8 L1399.5,801.5 L1394.0,798.3 L1388.4,795.1 L1382.8,792.1 L1377.2,789.1 L1371.7,786.2 L1366.1,783.3 L1360.5,780.5 L1354.9,777.6 L1349.2,774.8 L1343.6,772.0 L1338.0,769.2 L1332.4,766.5 L1326.7,763.6 L1321.1,760.8 L1315.4,758.0 L1309.8,755.1 L1304.1,752.2 L1298.5,749.4 L1292.9,746.5 L1287.3,743.6 L1281.6,740.8 L1276.0,737.9 L1270.4,735.1 L1264.8,732.3 L1259.2,729.5 L1253.6,726.7 L1248.0,723.9 L1242.4,721.1 L1236.9,718.4 L1231.3,715.7 L1225.8,713.0 L1220.2,710.4 L1214.6,707.9 L1209.0,705.3 L1203.5,702.8 L1197.9,700.4 L1192.3,697.9 L1186.8,695.6 L1181.2,693.2 L1175.6,690.9 L1170.0,688.6 L1164.5,686.3 L1158.9,684.1 L1153.3,681.9 L1147.7,679.8 L1142.1,677.7 L1136.5,675.7 L1130.9,673.7 L1125.3,671.8 L1119.7,669.8 L1114.1,667.9 L1108.5,666.1 L1102.9,664.2 L1097.3,662.4 L1091.7,660.7 L1086.1,658.9 L1080.5,657.2 L1074.9,655.5 L1069.3,653.8 L1063.7,652.2 L1058.1,650.6 L1052.4,649.0 L1046.8,647.4 L1041.2,645.9 L1035.6,644.4 L1030.0,642.9 L1024.4,641.4 L1018.8,640.0 L1013.2,638.6 L1007.6,637.2 L1002.0,635.8 L996.4,634.4 L990.8,633.1 L985.1,631.8 L979.5,630.5 L973.9,629.3 L968.3,628.0 L962.7,626.8 L957.1,625.6 L951.5,624.4 L945.9,623.2 L940.2,622.0 L934.6,620.9 L929.0,619.8 L923.4,618.7 L917.8,617.6 L912.2,616.5 L906.6,615.5 L900.9,614.4 L895.3,613.4 L889.7,612.4 L884.1,611.4 L878.5,610.4 L872.9,609.4 L867.2,608.5 L861.6,607.5 L856.0,606.6 L850.4,605.6 L844.8,604.7 L839.2,603.8 L833.5,602.9 L827.9,602.0 L822.3,601.2 L816.7,600.3 L811.1,599.4 L805.4,598.6 L799.8,597.8 L794.2,597.0 L788.6,596.1 L783.0,595.3 L777.3,594.6 L771.7,593.8 L766.1,593.0 L760.5,592.2 L754.9,591.5 L749.2,590.7 L743.6,590.0 L738.0,589.3 L732.4,588.6 L726.8,587.9 L721.1,587.2 L715.5,586.5 L709.9,585.8 L704.3,585.1 L698.6,584.4 L693.0,583.8 L687.4,583.1 L681.8,582.5 L676.2,581.8 L670.5,581.2 L664.9,580.6 L659.3,580.0 L653.7,579.4 L648.1,578.8 L642.4,578.2 L636.8,577.6 L631.2,577.0 L625.6,576.4 L619.9,575.8 L614.3,575.3 L608.7,574.7 L603.1,574.2 L597.4,573.6 L591.8,573.1 L586.2,572.5 L580.6,572.0 L574.9,571.5 L569.3,571.0 L563.7,570.4 L558.1,569.9 L552.4,569.4 L546.8,568.9 L541.2,568.4 L535.6,567.9 L529.9,567.4 L524.3,566.9 L518.7,566.5 L513.1,566.0 L507.4,565.5 L501.8,565.0 L496.2,564.6 L490.6,564.1 L484.9,563.6 L479.3,563.2 L473.7,562.7 L468.1,562.3 L462.4,561.8 L456.8,561.4 L451.2,560.9 L445.6,560.5 L439.9,560.0 L434.3,559.6 L428.7,559.1 L423.0,558.7 L417.4,558.3 L411.8,557.8 L406.2,557.4 L400.5,556.9 L394.9,556.5 L389.3,556.1 L383.7,555.6 L378.0,555.2 L372.4,554.8 L366.8,554.3 L361.1,553.9 L355.5,553.5 L349.9,553.0 L344.3,552.6 L338.6,552.2 L333.0,551.7 L327.4,551.3 L321.7,550.9 L316.1,550.4 L310.5,550.0 L304.8,549.6 L299.2,549.1 L293.6,548.7 Z" fill="#000000" stroke="none"/>
<path d="M294.0,629.6 L297.1,629.8 L300.3,630.1 L303.4,630.3 L306.5,630.6 L309.7,630.8 L312.8,631.1 L315.9,631.3 L319.1,631.6 L322.2,631.8 L325.4,632.1 L328.5,632.3 L331.6,632.6 L334.8,632.8 L337.9,633.1 L341.0,633.3 L344.2,633.6 L347.3,633.8 L350.4,634.0 L353.6,634.3 L356.7,634.5 L359.8,634.8 L363.0,635.0 L366.1,635.2 L369.3,635.5 L372.4,635.7 L375.5,636.0 L378.7,636.2 L381.8,636.4 L384.9,636.7 L388.1,636.9 L391.2,637.2 L394.3,637.4 L397.5,637.6 L400.6,637.9 L403.7,638.1 L406.9,638.4 L410.0,638.6 L413.1,638.8 L416.3,639.1 L419.4,639.3 L422.6,639.6 L425.7,639.8 L428.8,640.0 L432.0,640.3 L435.1,640.5 L438.2,640.8 L441.4,641.0 L444.5,641.2 L447.6,641.5 L450.8,641.7 L453.9,642.0 L457.0,642.2 L460.2,642.4 L463.3,642.7 L466.4,642.9 L469.6,643.2 L472.7,643.4 L475.9,643.7 L479.0,643.9 L482.1,644.2 L485.3,644.4 L488.4,644.6 L491.5,644.9 L494.7,645.1 L497.8,645.4 L500.9,645.6 L504.1,645.9 L507.2,646.1 L510.3,646.4 L513.5,646.7 L516.6,646.9 L519.8,647.2 L522.9,647.4 L526.0,647.7 L529.2,647.9 L532.3,648.2 L535.4,648.5 L538.6,648.7 L541.7,649.0 L544.8,649.3 L548.0,649.5 L551.1,649.8 L554.2,650.1 L557.4,650.3 L560.5,650.6 L563.6,650.9 L566.8,651.1 L569.9,651.4 L573.1,651.7 L576.2,652.0 L579.3,652.3 L582.5,652.5 L585.6,652.8 L588.7,653.1 L591.9,653.4 L595.0,653.7 L598.1,654.0 L601.3,654.3 L604.4,654.5 L607.5,654.8 L610.7,655.1 L613.8,655.4 L617.0,655.7 L620.1,656.0 L623.2,656.3 L626.4,656.6 L629.5,657.0 L632.6,657.3 L635.8,657.6 L638.9,657.9 L642.0,658.2 L645.2,658.5 L648.3,658.8 L651.4,659.2 L654.6,659.5 L657.7,659.8 L660.8,660.1 L664.0,660.5 L667.1,660.8 L670.3,661.1 L673.4,661.5 L676.5,661.8 L679.7,662.2 L682.8,662.5 L685.9,662.8 L689.1,663.2 L692.2,663.5 L695.3,663.9 L698.5,664.3 L701.6,664.6 L704.7,665.0 L707.9,665.3 L711.0,665.7 L714.2,666.1 L717.3,666.5 L720.4,666.8 L723.6,667.2 L726.7,667.6 L729.8,668.0 L733.0,668.4 L736.1,668.7 L739.2,669.1 L742.4,669.5 L745.5,669.9 L748.6,670.3 L751.8,670.7 L754.9,671.1 L758.0,671.6 L761.2,672.0 L764.3,672.4 L767.5,672.8 L770.6,673.2 L773.7,673.6 L776.9,674.1 L780.0,674.5 L783.1,674.9 L786.3,675.4 L789.4,675.8 L792.5,676.3 L795.7,676.7 L798.8,677.2 L801.9,677.6 L805.1,678.1 L808.2,678.6 L811.3,679.0 L814.5,679.5 L817.6,680.0 L820.8,680.4 L823.9,680.9 L827.0,681.4 L830.2,681.9 L833.3,682.4 L836.4,682.9 L839.6,683.4 L842.7,683.9 L845.8,684.4 L849.0,684.9 L852.1,685.4 L855.2,685.9 L858.4,686.5 L861.5,687.0 L864.7,687.5 L867.8,688.0 L870.9,688.6 L874.1,689.1 L877.2,689.7 L880.3,690.2 L883.5,690.8 L886.6,691.3 L889.7,691.9 L892.9,692.5 L896.0,693.0 L899.1,693.6 L902.3,694.2 L905.4,694.8 L908.5,695.4 L911.7,696.0 L914.8,696.6 L918.0,697.2 L921.1,697.8 L924.2,698.4 L927.4,699.0 L930.5,699.6 L933.6,700.2 L936.8,700.9 L939.9,701.5 L943.0,702.1 L946.2,702.8 L949.3,703.4 L952.4,704.1 L955.6,704.8 L958.7,705.4 L961.9,706.1 L965.0,706.8 L968.1,707.4 L971.3,708.1 L974.4,708.8 L977.5,709.5 L980.7,710.2 L983.8,710.9 L986.9,711.6 L990.1,712.3 L993.2,713.1 L996.3,713.8 L999.5,714.5 L1002.6,715.3 L1005.7,716.0 L1008.9,716.8 L1012.0,717.5 L1015.2,718.3 L1018.3,719.1 L1021.4,719.9 L1024.6,720.7 L1027.7,721.5 L1030.8,722.3 L1034.0,723.1 L1037.1,723.9 L1040.2,724.7 L1043.4,725.6 L1046.5,726.4 L1049.6,727.3 L1052.8,728.1 L1055.9,729.0 L1059.1,729.9 L1062.2,730.8 L1065.3,731.7 L1068.5,732.6 L1071.6,733.5 L1074.7,734.4 L1077.9,735.4 L1081.0,736.3 L1084.1,737.3 L1087.3,738.2 L1090.4,739.2 L1093.5,740.2 L1096.7,741.2 L1099.8,742.2 L1102.9,743.2 L1106.1,744.2 L1109.2,745.3 L1112.4,746.3 L1115.5,747.4 L1118.6,748.4 L1121.8,749.5 L1124.9,750.6 L1128.0,751.7 L1131.2,752.8 L1134.3,754.0 L1137.4,755.1 L1140.6,756.2 L1143.7,757.4 L1146.8,758.6 L1150.0,759.8 L1153.1,761.0 L1156.2,762.2 L1159.4,763.4 L1162.5,764.6 L1165.7,765.9 L1168.8,767.1 L1171.9,768.4 L1175.1,769.7 L1178.2,771.0 L1181.3,772.3 L1184.5,773.6 L1187.6,775.0 L1190.7,776.3 L1193.9,777.7 L1197.0,779.1 L1200.1,780.5 L1203.3,781.9 L1206.4,783.3 L1209.6,784.7 L1212.7,786.2 L1215.8,787.6 L1219.0,789.1 L1222.1,790.6 L1225.2,792.1 L1228.4,793.7 L1231.5,795.2" stroke-width="10.6"/>
</g>
<rect x="294.2" y="58.9" width="1686.9" height="1522.9" fill="none" stroke="#000000" stroke-width="10.8"/>
<g stroke="#444444" fill="none">
<line x1="1269.5" y1="171.2" x2="1528.5" y2="171.2" stroke-width="15"/>
<line x1="1274" y1="274.8" x2="1526.5" y2="274.8" stroke-width="15" stroke-dasharray="55.5 42.8"/>
</g>
<g class="yticks">
<text transform="translate(123.38 90.53) scale(0.9510 1)" font-family='"Liberation Sans", Arial, Helvetica, sans-serif' font-size="87.46" fill="#444444">800</text>
<text transform="translate(123.76 404.53) scale(0.9525 1)" font-family='"Liberation Sans", Arial, Helvetica, sans-serif' font-size="87.32" fill="#444444">600</text>
<text transform="translate(121.90 853.93) scale(0.9445 1)" font-family='"Liberation Sans", Arial, Helvetica, sans-serif' font-size="87.32" fill="#444444">400</text>
<text transform="translate(119.83 1608.43) scale(0.9548 1)" font-family='"Liberation Sans", Arial, Helvetica, sans-serif' font-size="86.62" fill="#444444">200</text>
</g>
<g class="xticks">
<clipPath id="clip1"><polygon points="-17.52,-87.61 151.56,-87.61 151.56,8.76 143.81,8.76 143.81,-7.60 127.04,-7.60 127.04,8.76 -17.52,8.76"/></clipPath><text transform="translate(225.74 1691.92) scale(0.9525 1)" font-family='"Liberation Sans", Arial, Helvetica, sans-serif' font-size="87.61" clip-path="url(#clip1)" fill="#444444">0.01</text>
<clipPath id="clip2"><polygon points="-17.44,-87.18 102.34,-87.18 102.34,8.72 94.63,8.72 94.63,-7.56 77.94,-7.56 77.94,8.72 -17.44,8.72"/></clipPath><text transform="translate(1194.23 1687.93) scale(0.9895 1)" font-family='"Liberation Sans", Arial, Helvetica, sans-serif' font-size="87.18" clip-path="url(#clip2)" fill="#444444">0.1</text>
</g>
<g class="eR">
<text transform="translate(71.98 741.90) scale(0.9882 1)" font-family='"Liberation Serif", "Times New Roman", Times, serif' font-size="95.98" fill="#444444">Δ</text>
<text transform="translate(129.66 742.57) scale(1.0124 1)" font-family='"DejaVu Serif", "Liberation Serif", serif' font-size="81.87" fill="#444444">σ</text>
<text transform="translate(184.53 749.67) scale(0.9660 1)" font-family='"Liberation Serif", "Times New Roman", Times, serif' font-size="62.88" fill="#444444">eR</text>
</g>
<g class="d">
<text transform="translate(957.51 1674.76) scale(1.1026 1)" font-family='"Liberation Serif", "Times New Roman", Times, serif' font-size="103.78" font-style="italic" fill="#444444">d</text>
</g>
<g class="n250">
<text transform="translate(325.68 347.70) scale(0.9581 1)" font-family='"Liberation Serif", "Times New Roman", Times, serif' font-size="60.54" fill="#444444">Δ</text>
<text transform="translate(360.16 347.92) scale(1.0140 1)" font-family='"DejaVu Serif", "Liberation Serif", serif' font-size="52.15" fill="#444444">σ</text>
<text transform="translate(394.86 351.79) scale(1.0173 1)" font-family='"Liberation Serif", "Times New Roman", Times, serif' font-size="35.97" fill="#444444">n</text>
<text transform="translate(423.19 345.46) scale(1.2771 1)" font-family='"Liberation Serif", "Times New Roman", Times, serif' font-size="52.00" fill="#444444">=</text>
<text transform="translate(470.77 348.09) scale(0.9513 1)" font-family='"Liberation Serif", "Times New Roman", Times, serif' font-size="60.57" fill="#444444">250</text>
<text transform="translate(569.37 347.80) scale(0.9510 1)" font-family='"Liberation Serif", "Times New Roman", Times, serif' font-size="59.52" fill="#444444">MPa</text>
</g>
<g class="c240">
<text transform="translate(449.87 470.61) scale(0.9752 1)" font-family='"Liberation Serif", "Times New Roman", Times, serif' font-size="59.09" fill="#444444">240</text>
</g>
<g class="c270">
<text transform="translate(325.30 535.11) scale(0.9633 1)" font-family='"Liberation Serif", "Times New Roman", Times, serif' font-size="59.09" fill="#444444">270</text>
</g>
<g class="c250">
<text transform="translate(438.87 626.79) scale(0.9478 1)" font-family='"Liberation Serif", "Times New Roman", Times, serif' font-size="60.72" fill="#444444">250</text>
</g>
<g class="leg1">
<text transform="translate(1597.53 185.60) scale(1.0630 1)" font-family='"Liberation Serif", "Times New Roman", Times, serif' font-size="104.99" font-style="italic" fill="#000000">k</text>
<text transform="translate(1646.07 190.94) scale(0.9737 1)" font-family='"Liberation Serif", "Times New Roman", Times, serif' font-size="66.21" fill="#000000">t</text>
<text transform="translate(1685.70 182.28) scale(1.2668 1)" font-family='"Liberation Serif", "Times New Roman", Times, serif' font-size="76.00" fill="#000000">=</text>
<text transform="translate(1758.18 184.34) scale(0.9324 1)" font-family='"Liberation Serif", "Times New Roman", Times, serif' font-size="85.67" fill="#000000">1.94</text>
</g>
<g class="leg2">
<text transform="translate(1597.53 303.60) scale(1.0630 1)" font-family='"Liberation Serif", "Times New Roman", Times, serif' font-size="104.99" font-style="italic" fill="#000000">k</text>
<text transform="translate(1646.07 308.94) scale(0.9737 1)" font-family='"Liberation Serif", "Times New Roman", Times, serif' font-size="66.21" fill="#000000">t</text>
<text transform="translate(1685.70 300.28) scale(1.2668 1)" font-family='"Liberation Serif", "Times New Roman", Times, serif' font-size="76.00" fill="#000000">=</text>
<text transform="translate(1753.69 302.34) scale(0.9326 1)" font-family='"Liberation Serif", "Times New Roman", Times, serif' font-size="85.67" fill="#000000">2.51</text>
</g>
<g class="steel">
<text transform="translate(346.52 1514.24) scale(0.9580 1)" font-family='"Liberation Serif", "Times New Roman", Times, serif' font-size="85.55" fill="#000000">C-2.2Ni Steel</text>
</g>
<g class="xlabel">
<text transform="translate(1119.51 1797.55) scale(0.9736 1)" font-family='"Liberation Serif", "Times New Roman", Times, serif' font-size="84.53" fill="#000000">Crack length,</text>
<text transform="translate(1582.30 1797.58) scale(1.0886 1)" font-family='"Liberation Serif", "Times New Roman", Times, serif' font-size="101.67" font-style="italic" fill="#000000">a</text>
<text transform="translate(1675.07 1800.44) scale(0.9249 1)" font-family='"Liberation Serif", "Times New Roman", Times, serif' font-size="89.33" fill="#000000">[mm]</text>
</g>
<g class="ylabel">
<text transform="translate(78.75 562.84) rotate(-90) scale(0.9882 1)" font-family='"Liberation Serif", "Times New Roman", Times, serif' font-size="108.37" fill="#000000">Δ</text>
<text transform="translate(77.40 497.22) rotate(-90) scale(1.0480 1)" font-family='"DejaVu Serif", "Liberation Serif", serif' font-size="90.00" fill="#000000">σ</text>
<text transform="translate(81.99 389.82) rotate(-90) scale(0.9390 1)" font-family='"Liberation Serif", "Times New Roman", Times, serif' font-size="87.09" fill="#000000">[MPa]</text>
</g>
</g>
</svg>
</body>
</html>
